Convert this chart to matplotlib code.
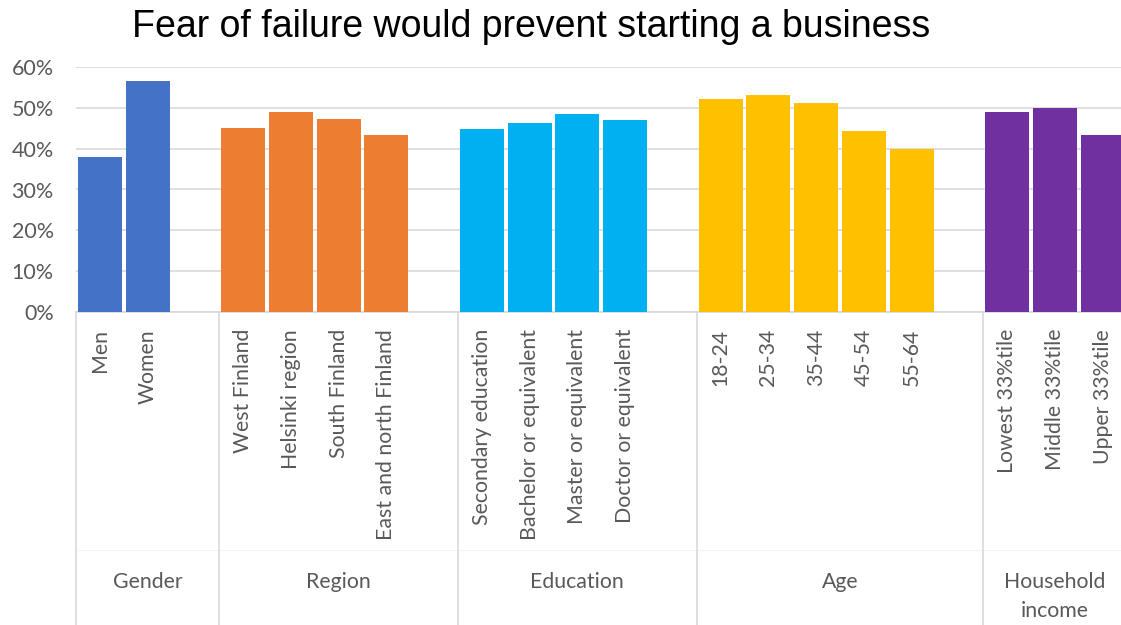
import matplotlib.pyplot as plt
from matplotlib.transforms import blended_transform_factory
from matplotlib.ticker import PercentFormatter

# Values (share of respondents)
gender_labels = ['Men', 'Women']
gender_values = [37.9, 56.5]

region_labels = ['West Finland', 'Helsinki region', 'South Finland', 'East and north Finland']
region_values = [45.0, 48.9, 47.2, 43.3]

education_labels = ['Secondary education', 'Bachelor or equivalent',
                    'Master or equivalent', 'Doctor or equivalent']
education_values = [44.8, 46.3, 48.5, 47.0]

age_labels = ['18-24', '25-34', '35-44', '45-54', '55-64']
age_values = [52.1, 53.1, 51.1, 44.3, 39.9]

income_labels = ['Lowest 33%tile', 'Middle 33%tile', 'Upper 33%tile']
income_values = [48.9, 49.9, 43.3]

group_names = ['Gender', 'Region', 'Education', 'Age', 'Household\nincome']
group_colours = ['#4472C4', '#ED7D31', '#00B0F0', '#FFC000', '#7030A0']

groups = [
    (gender_labels, gender_values),
    (region_labels, region_values),
    (education_labels, education_values),
    (age_labels, age_values),
    (income_labels, income_values),
]

text_colour = '#595959'
line_colour = '#D9D9D9'
tick_font = 'Lato'

fig = plt.figure(figsize=(11.21, 6.25), dpi=100)
ax = fig.add_axes([76 / 1121, 1 - 312.3 / 625, 1050.5 / 1121, (312.3 - 66.7) / 625])

positions, labels = [], []
group_spans = []
pos = 0
for i, ((cats, vals), colour) in enumerate(zip(groups, group_colours)):
    start = pos
    xs = list(range(pos, pos + len(cats)))
    ax.bar(xs, vals, width=0.92, color=colour, zorder=3)
    positions += xs
    labels += cats
    # every group but the last keeps one empty slot after its bars
    span = len(cats) + (1 if i < len(groups) - 1 else 0)
    group_spans.append((start, start + span - 1))
    pos = start + span

n_slots = pos
ax.set_xlim(-0.5, n_slots - 0.5)
ax.set_ylim(0, 60)

ax.yaxis.set_major_formatter(PercentFormatter(decimals=0))
ax.set_yticks(range(0, 61, 10))
ax.grid(axis='y', color=line_colour, linewidth=1.2, zorder=0)
ax.tick_params(axis='y', length=0, pad=16, labelsize=15.5, labelcolor=text_colour)
for t in ax.get_yticklabels():
    t.set_fontfamily(tick_font)

ax.set_xticks(positions)
ax.set_xticklabels(labels, rotation=90, va='top', ha='center',
                   fontsize=15.3, color=text_colour, family=tick_font)
ax.tick_params(axis='x', length=0, pad=12)

for side in ['left', 'right', 'top']:
    ax.spines[side].set_visible(False)
ax.spines['bottom'].set_color(line_colour)
ax.spines['bottom'].set_linewidth(1.2)

# Group separators and group names below the category labels
trans = blended_transform_factory(ax.transData, fig.transFigure)
axis_y = 1 - 312.3 / 625
edges = [-0.5] + [end + 0.5 for start, end in group_spans[:-1]]
for x in edges:
    ax.plot([x, x], [0, axis_y], transform=trans, color=line_colour,
            linewidth=1.2, clip_on=False, zorder=1)
ax.plot([-0.5, n_slots - 0.5], [1 - 550 / 625] * 2, transform=trans,
        color='#F4F4F4', linewidth=0.8, clip_on=False, zorder=0)

for (start, end), name in zip(group_spans, group_names):
    ax.text((start + end) / 2, 1 - 572 / 625, name, transform=trans,
            ha='center', va='top', fontsize=15.3, color=text_colour,
            family=tick_font, linespacing=1.55)

fig.text(531 / 1121, 1 - 37 / 625, 'Fear of failure would prevent starting a business',
         ha='center', va='baseline', fontsize=27, family='Liberation Sans', color='black')

fig.savefig('out.png', dpi=100)
